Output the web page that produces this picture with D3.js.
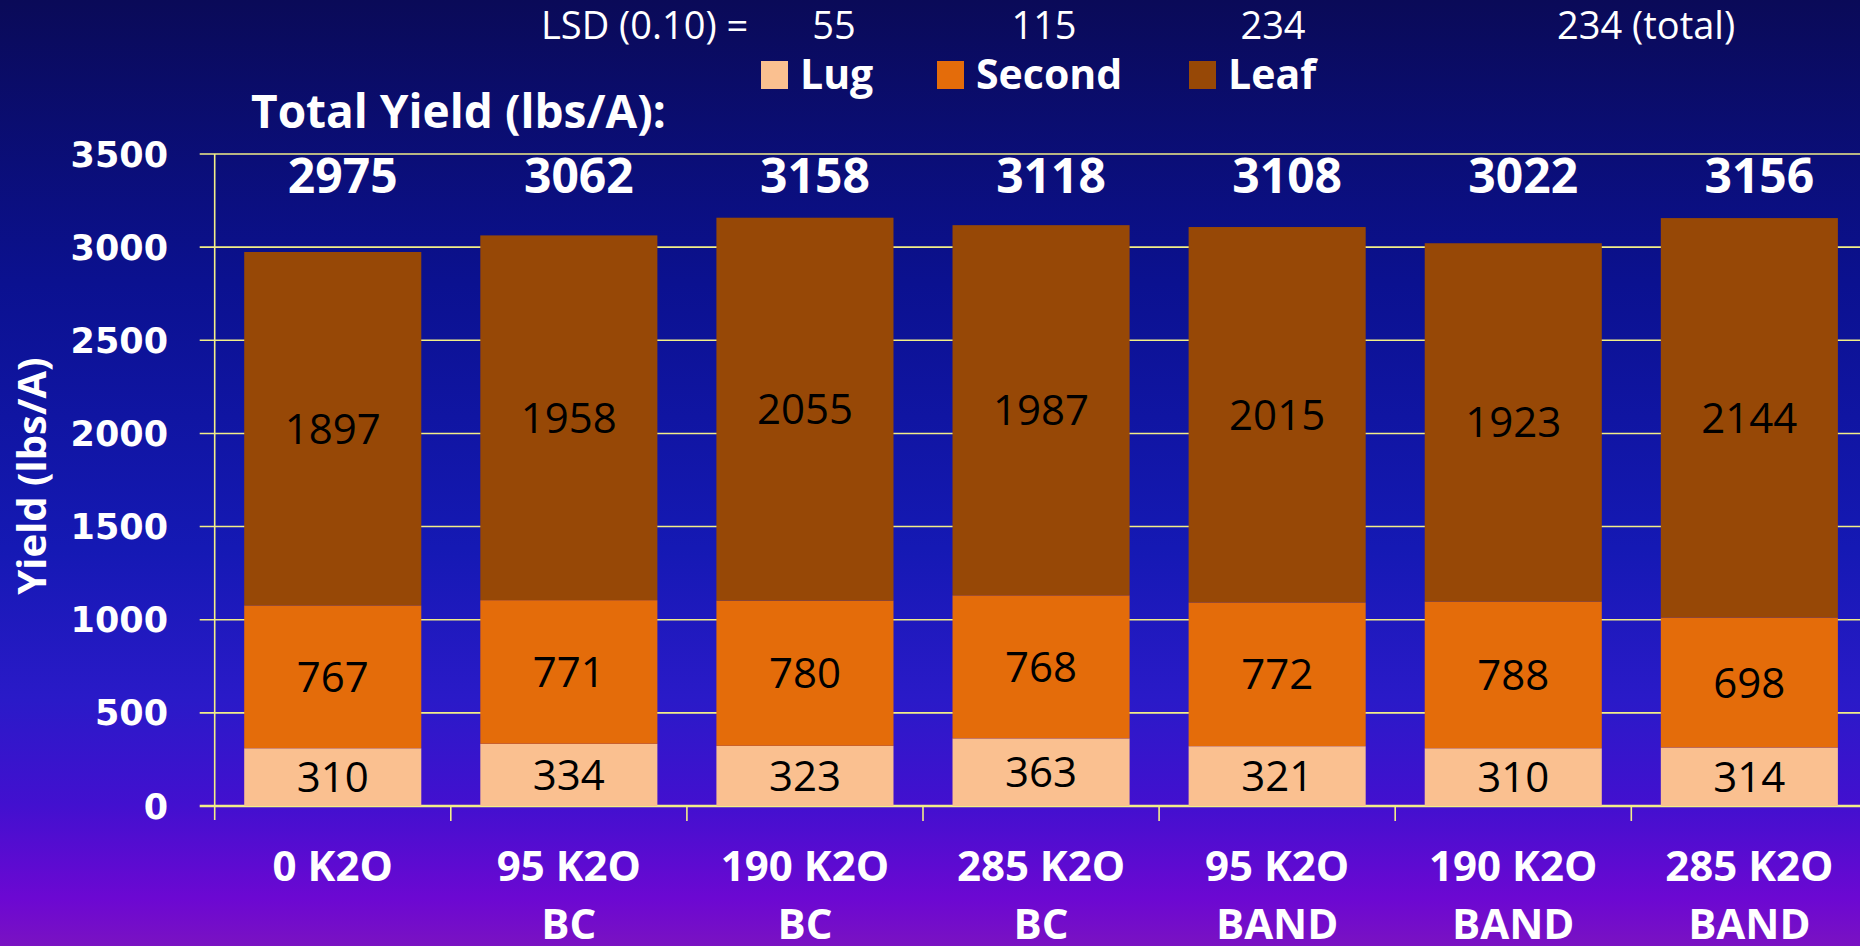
<!DOCTYPE html>
<html>
<head>
<meta charset="utf-8">
<script src="https://cdn.jsdelivr.net/npm/d3@7"></script>
<style>
  html, body { margin: 0; padding: 0; overflow: hidden; }
  svg { display: block; }
  .cal { font-family: "Open Sans", "Noto Sans", sans-serif; }
</style>
</head>
<body>
<svg id="chart" width="1860" height="946"></svg>
<script>
// data
var categories = [["0 K2O", ""], ["95 K2O", "BC"], ["190 K2O", "BC"], ["285 K2O", "BC"],
                  ["95 K2O", "BAND"], ["190 K2O", "BAND"], ["285 K2O", "BAND"]];
var lug    = [310, 334, 323, 363, 321, 310, 314];
var second = [767, 771, 780, 768, 772, 788, 698];
var leaf   = [1897, 1958, 2055, 1987, 2015, 1923, 2144];
var totals = [2975, 3062, 3158, 3118, 3108, 3022, 3156];
var seriesNames = ["Lug", "Second", "Leaf"];
var lsdValues = ["55", "115", "234"];
var lsdTotal = "234 (total)";
var yTicks = [0, 500, 1000, 1500, 2000, 2500, 3000, 3500];

var colors = {Lug: "#FAC090", Second: "#E46C0A", Leaf: "#974806"};
var gridCol = "#F2EE88";

var W = 1860, H = 946;
var svg = d3.select("#chart");

// background gradient
var defs = svg.append("defs");
var grad = defs.append("linearGradient").attr("id", "bg")
  .attr("x1", 0).attr("y1", 0).attr("x2", 0).attr("y2", 1);
[[0, "#0a0a58"], [0.3, "#0b1190"], [0.58, "#1519b4"], [0.74, "#2a1ac8"],
 [0.85, "#4210cf"], [0.95, "#6c08d2"], [1, "#7a12c2"]].forEach(function(s) {
  grad.append("stop").attr("offset", s[0]).attr("stop-color", s[1]);
});
svg.append("rect").attr("width", W).attr("height", H).attr("fill", "url(#bg)");

// scales
var x0 = 214.7, step = 236.1;
var xScale = d3.scaleBand()
  .domain(d3.range(categories.length))
  .range([x0, x0 + step * categories.length])
  .paddingInner(0.25)
  .paddingOuter(0.125);

var yScale = d3.scaleLinear().domain([0, 3500]).range([806, 154]);

// stacked data
var rows = categories.map(function(c, i) {
  return {i: i, Lug: lug[i], Second: second[i], Leaf: leaf[i]};
});
var stacked = d3.stack().keys(seriesNames)(rows);

// gridlines
svg.append("g").selectAll("line.grid")
  .data(yTicks)
  .join("line")
    .attr("class", "grid")
    .attr("x1", x0 - 15)
    .attr("x2", W)
    .attr("y1", d => yScale(d))
    .attr("y2", d => yScale(d))
    .attr("stroke", gridCol)
    .attr("stroke-width", d => d === 0 ? 2.5 : 1.6);

// y axis line
svg.append("line")
  .attr("x1", x0).attr("x2", x0)
  .attr("y1", yScale(3500)).attr("y2", yScale(0) + 14)
  .attr("stroke", gridCol).attr("stroke-width", 1.6);

// category ticks on band edges
svg.append("g").selectAll("line.xt")
  .data(d3.range(1, categories.length))
  .join("line")
    .attr("x1", d => x0 + d * xScale.step())
    .attr("x2", d => x0 + d * xScale.step())
    .attr("y1", yScale(0))
    .attr("y2", yScale(0) + 15)
    .attr("stroke", gridCol).attr("stroke-width", 1.6);

// bars
var layers = svg.append("g").selectAll("g.layer")
  .data(stacked)
  .join("g")
    .attr("class", "layer")
    .attr("fill", d => colors[d.key]);

layers.selectAll("rect")
  .data(d => d)
  .join("rect")
    .attr("x", d => xScale(d.data.i))
    .attr("width", xScale.bandwidth())
    .attr("y", d => yScale(d[1]))
    .attr("height", d => yScale(d[0]) - yScale(d[1]));

// segment labels
layers.selectAll("text")
  .data(d => d.map(v => ({v: v, key: d.key})))
  .join("text")
    .attr("class", "cal")
    .attr("x", d => xScale(d.v.data.i) + xScale.bandwidth() / 2)
    .attr("y", d => (yScale(d.v[0]) + yScale(d.v[1])) / 2)
    .attr("dy", "0.36em")
    .attr("text-anchor", "middle")
    .attr("fill", "#000")
    .style("font-size", "42px")
    .text(d => d.v.data[d.key]);

// y tick labels
svg.append("g").selectAll("text")
  .data(yTicks)
  .join("text")
    .attr("x", 168)
    .attr("y", d => yScale(d))
    .attr("dy", "0.36em")
    .attr("text-anchor", "end")
    .attr("fill", "#fff")
    .style("font-family", "'DejaVu Sans', sans-serif")
    .style("font-weight", "bold")
    .style("font-size", "35px")
    .text(d => d);

// y axis title
svg.append("text")
  .attr("class", "cal")
  .attr("transform", "translate(46,476) rotate(-90)")
  .attr("text-anchor", "middle")
  .attr("fill", "#fff")
  .style("font-weight", "bold")
  .style("font-size", "40px")
  .text("Yield (lbs/A)");

// category labels
var catG = svg.append("g").selectAll("text")
  .data(categories)
  .join("text")
    .attr("class", "cal")
    .attr("text-anchor", "middle")
    .attr("fill", "#fff")
    .style("font-weight", "bold")
    .style("font-size", "42px");
catG.append("tspan")
  .attr("x", (d, i) => xScale(i) + xScale.bandwidth() / 2)
  .attr("y", 881)
  .text(d => d[0]);
catG.append("tspan")
  .attr("x", (d, i) => xScale(i) + xScale.bandwidth() / 2)
  .attr("y", 939)
  .text(d => d[1]);

// totals above bars
svg.append("text")
  .attr("class", "cal")
  .attr("x", 251).attr("y", 128)
  .attr("fill", "#fff")
  .style("font-weight", "bold")
  .style("font-size", "46px")
  .text("Total Yield (lbs/A):");

svg.append("g").selectAll("text")
  .data(totals)
  .join("text")
    .attr("class", "cal")
    .attr("x", (d, i) => xScale(i) + xScale.bandwidth() / 2 + 10)
    .attr("y", 193)
    .attr("text-anchor", "middle")
    .attr("fill", "#fff")
    .style("font-weight", "bold")
    .style("font-size", "48px")
    .text(d => d);

// LSD row
svg.append("text")
  .attr("class", "cal")
  .attr("x", 541).attr("y", 39)
  .attr("fill", "#fff")
  .style("font-size", "38px")
  .text("LSD (0.10) =");

var lsdX = [834, 1044, 1273];
svg.append("g").selectAll("text")
  .data(lsdValues)
  .join("text")
    .attr("class", "cal")
    .attr("x", (d, i) => lsdX[i]).attr("y", 39)
    .attr("text-anchor", "middle")
    .attr("fill", "#fff")
    .style("font-size", "38px")
    .text(d => d);

svg.append("text")
  .attr("class", "cal")
  .attr("x", 1557).attr("y", 39)
  .attr("fill", "#fff")
  .style("font-size", "38px")
  .text(lsdTotal);

// legend
var legX = [761, 937, 1189];
var leg = svg.append("g").selectAll("g")
  .data(seriesNames)
  .join("g")
    .attr("transform", (d, i) => `translate(${legX[i]},61)`);
leg.append("rect")
  .attr("width", 27).attr("height", 28)
  .attr("fill", d => colors[d]);
leg.append("text")
  .attr("class", "cal")
  .attr("x", 39).attr("y", 28)
  .attr("fill", "#fff")
  .style("font-weight", "bold")
  .style("font-size", "41px")
  .text(d => d);
</script>
</body>
</html>
